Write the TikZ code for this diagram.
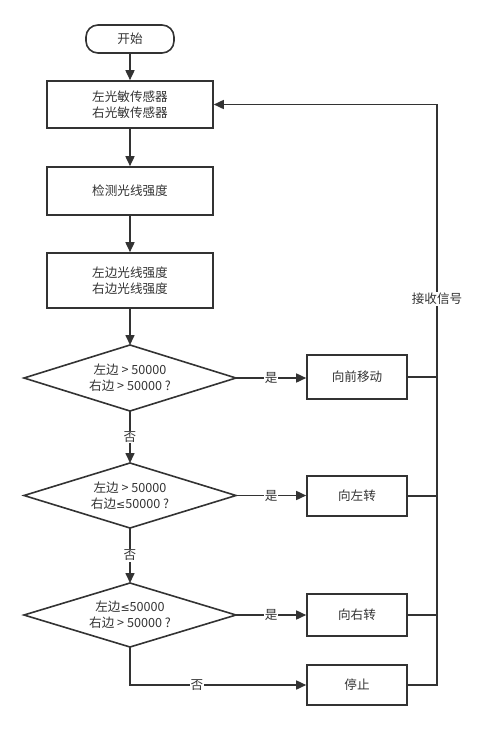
\documentclass[tikz,border=0pt]{standalone}
\usepackage{fontspec}
\setmainfont{Noto Sans CJK SC}
\newfontfamily\dv{DejaVu Sans}
\newcommand{\myle}{{\dv\fontsize{11}{16}\selectfont ≤}}
\usetikzlibrary{shapes.geometric,arrows.meta}
\definecolor{ln}{HTML}{333333}
\tikzset{
  box/.style={draw=ln,line width=1.6pt,rectangle,minimum width=166pt,align=center,inner sep=0pt,text=ln},
  rbox/.style={draw=ln,line width=1.6pt,rectangle,minimum width=100pt,align=center,inner sep=0pt,text=ln},
  term/.style={draw=ln,line width=1.6pt,rectangle,rounded corners=12pt,minimum width=88pt,minimum height=28pt,text=ln},
  dtext/.style={align=center,inner sep=0pt,text=ln},
  conn/.style={draw=ln,line width=1.6pt,-{Triangle[length=10pt,width=9pt]}},
  plain/.style={draw=ln,line width=1.6pt},
  lbl/.style={fill=white,inner sep=1pt,text=ln}
}
\begin{document}
\begin{tikzpicture}[x=1pt,y=-1pt,font=\fontsize{12.6}{16}\selectfont]
\useasboundingbox (0,0) rectangle (478,729);
\node[term] (start) at (130,39) {开始};
\node[box,minimum height=47pt] (s1) at (130,104.5) {左光敏传感器\\右光敏传感器};
\node[box,minimum height=48pt] (s2) at (130,191) {检测光线强度};
\node[box,minimum height=55pt] (s3) at (130,280.5) {左边光线强度\\右边光线强度};
% decisions drawn as paths with named corners
\coordinate (d1n) at (130,345); \coordinate (d1s) at (130,411);
\coordinate (d1w) at (24,378);  \coordinate (d1e) at (236,378);
\draw[plain,line join=miter] (d1n) -- (d1e) -- (d1s) -- (d1w) -- cycle;
\node[dtext] (d1) at (130,378) {左边 > 50000\\右边 > 50000 ?};
\coordinate (d2n) at (130,463); \coordinate (d2s) at (130,528);
\coordinate (d2w) at (24,495.5);  \coordinate (d2e) at (236,495.5);
\draw[plain,line join=miter] (d2n) -- (d2e) -- (d2s) -- (d2w) -- cycle;
\node[dtext] (d2) at (130,495.5) {左边 > 50000\\右边\myle50000 ?};
\coordinate (d3n) at (130,583); \coordinate (d3s) at (130,647);
\coordinate (d3w) at (24,615);  \coordinate (d3e) at (236,615);
\draw[plain,line join=miter] (d3n) -- (d3e) -- (d3s) -- (d3w) -- cycle;
\node[dtext] (d3) at (130,615) {左边\myle50000\\右边 > 50000 ?};
\node[rbox,minimum height=44pt] (r1) at (357,377) {向前移动};
\node[rbox,minimum height=40pt] (r2) at (357,496) {向左转};
\node[rbox,minimum height=42pt] (r3) at (357,615) {向右转};
\node[rbox,minimum height=40pt] (r4) at (357,685) {停止};
\coordinate (bus) at (437,104.5);

\draw[conn] (start) -- (s1);
\draw[conn] (s1) -- (s2);
\draw[conn] (s2) -- (s3);
\draw[conn] (s3) -- (d1n);
\draw[conn] (d1s) -- node[lbl] {否} (d2n);
\draw[conn] (d2s) -- node[lbl] {否} (d3n);
\draw[conn] (d1e) -- node[lbl] {是} (r1.west |- d1e);
\draw[conn] (d2e) -- node[lbl] {是} (r2.west |- d2e);
\draw[conn] (d3e) -- node[lbl] {是} (r3.west |- d3e);
\draw[conn] (d3s) |- node[lbl,pos=0.69] {否} (r4.west);
\draw[plain] (r1.east) -- (r1.east -| bus);
\draw[plain] (r2.east) -- (r2.east -| bus);
\draw[plain] (r3.east) -- (r3.east -| bus);
\draw[conn] (r4.east) -- (r4.east -| bus) -- node[lbl,pos=0.665] {接收信号} (bus) -- (s1.east);
\end{tikzpicture}
\end{document}
